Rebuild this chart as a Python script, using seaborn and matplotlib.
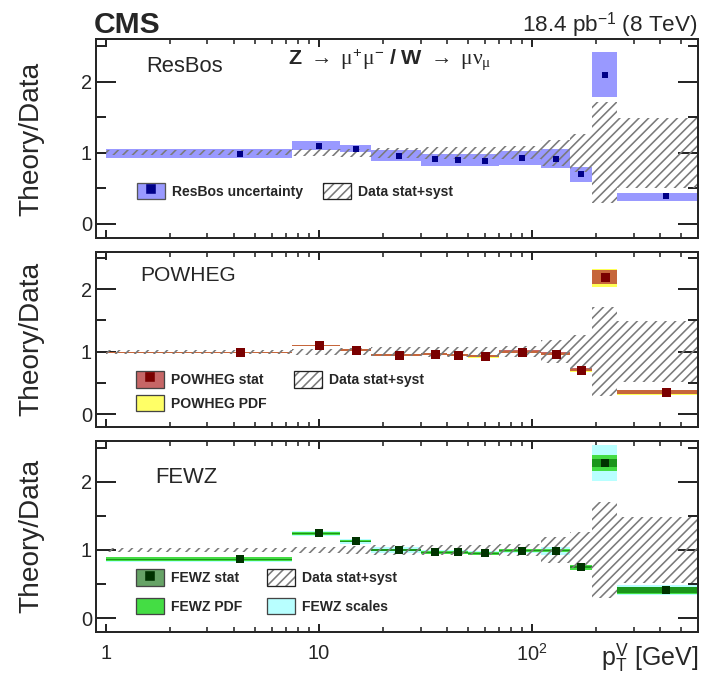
import numpy as np
import pandas as pd
import matplotlib
matplotlib.use("Agg")
import matplotlib.pyplot as plt
import seaborn as sns
from matplotlib.patches import Patch
from matplotlib.lines import Line2D
from matplotlib.legend_handler import HandlerTuple
from matplotlib.ticker import FixedLocator, NullFormatter, LogLocator

DPI = 115
W, H = 704, 675


def pt(px):
    return px * 72.0 / DPI


# ---------------- data ----------------
bin_edges = [1, 7.5, 12.5, 17.5, 30, 40, 50, 70, 110, 150, 190, 250, 600]
bin_centers = [4.25, 10, 15, 23.75, 35, 45, 60, 90, 130, 170, 220, 425]

# relative data uncertainty (stat+syst), band around 1
data_err = [0.035, 0.05, 0.06, 0.075, 0.08, 0.08, 0.08, 0.09, 0.185, 0.27, 0.71, 0.49]

# ResBos
resbos_val = [0.99, 1.10, 1.06, 0.95, 0.92, 0.90, 0.89, 0.93, 0.92, 0.70, 2.10, 0.39]
resbos_lo = [0.93, 1.035, 1.01, 0.885, 0.82, 0.81, 0.81, 0.83, 0.78, 0.59, 1.78, 0.32]
resbos_hi = [1.06, 1.16, 1.115, 1.035, 0.98, 0.99, 0.98, 1.02, 1.06, 0.80, 2.42, 0.44]

# POWHEG
powheg_val = [0.99, 1.10, 1.03, 0.95, 0.96, 0.95, 0.93, 1.00, 0.97, 0.71, 2.19, 0.36]
powheg_stat = [0.008, 0.01, 0.012, 0.012, 0.012, 0.015, 0.015, 0.02, 0.02, 0.025, 0.11, 0.03]
powheg_pdf_dn = [0.015, 0.012, 0.015, 0.02, 0.02, 0.022, 0.03, 0.02, 0.022, 0.03, 0.16, 0.045]
powheg_pdf_up = [0.008, 0.008, 0.01, 0.012, 0.012, 0.012, 0.012, 0.015, 0.015, 0.02, 0.13, 0.03]

# FEWZ
fewz_val = [0.865, 1.245, 1.13, 1.0, 0.965, 0.965, 0.95, 0.99, 0.99, 0.745, 2.28, 0.41]
fewz_stat = [0.008, 0.008, 0.008, 0.008, 0.008, 0.008, 0.008, 0.01, 0.01, 0.015, 0.055, 0.04]
fewz_pdf = [0.025, 0.02, 0.02, 0.02, 0.02, 0.02, 0.02, 0.02, 0.02, 0.035, 0.115, 0.05]
fewz_scale = [0.035, 0.035, 0.035, 0.04, 0.03, 0.03, 0.03, 0.03, 0.06, 0.04, 0.265, 0.07]

y_ticks = [0, 1, 2]
x_ticks = [1, 10, 100]
x_ticklabels = ["1", "10", r"$10^{2}$"]

# ---------------- style ----------------
sns.set_theme(style="ticks")
plt.rcParams.update({
    "font.family": ["Liberation Sans", "DejaVu Sans"],
    "mathtext.fontset": "custom",
    "mathtext.rm": "Liberation Sans",
    "mathtext.it": "Liberation Serif",
    "mathtext.bf": "Liberation Sans:bold",
    "mathtext.sf": "Liberation Sans",
    "hatch.color": "#7a7a7a",
    "hatch.linewidth": pt(1.6),
    "axes.linewidth": pt(2.0),
})

HATCH = "////"
HCOL = "#7a7a7a"
fig = plt.figure(figsize=(W / DPI, H / DPI), dpi=DPI)

left = 96 / W
width = (698 - 96) / W
rects = [
    (left, 1 - 238 / H, width, 198.7 / H),
    (left, 1 - 426.7 / H, width, 175 / H),
    (left, 1 - 631.7 / H, width, 190.7 / H),
]
axes = [fig.add_axes(r) for r in rects]

edges = np.array(bin_edges, dtype=float)
lefts = edges[:-1]
widths = np.diff(edges)


def band(ax, lo, hi, z, **kw):
    lo = np.asarray(lo, float)
    hi = np.asarray(hi, float)
    ax.bar(lefts, hi - lo, bottom=lo, width=widths, align="edge",
           linewidth=0, zorder=z, **kw)


def data_band(ax):
    e = np.asarray(data_err)
    ax.bar(lefts, 2 * e, bottom=1 - e, width=widths, align="edge",
           fill=False, hatch=HATCH, edgecolor=HCOL, linewidth=0, zorder=3)


def markers(ax, vals, color, size_px):
    df = pd.DataFrame({"pt": bin_centers, "ratio": vals})
    sns.scatterplot(data=df, x="pt", y="ratio", marker="s", s=pt(size_px) ** 2,
                    color=color, edgecolor=color, linewidth=0, zorder=6,
                    ax=ax, legend=False)


def style_axis(ax, bottom_labels):
    ax.set_xscale("log")
    ax.set_xlim(0.9, 600)
    ax.set_ylim(-0.2, 2.6)
    ax.yaxis.set_major_locator(FixedLocator(y_ticks))
    ax.yaxis.set_minor_locator(FixedLocator([0.5, 1.5, 2.5]))
    ax.xaxis.set_major_locator(FixedLocator(x_ticks))
    ax.xaxis.set_minor_locator(LogLocator(base=10, subs=np.arange(2, 10)))
    ax.xaxis.set_minor_formatter(NullFormatter())
    if bottom_labels:
        ax.set_xticklabels(x_ticklabels)
    else:
        ax.set_xticklabels([])
    ax.tick_params(axis="y", which="major", direction="in", length=pt(20),
                   width=pt(2), left=True, right=True, labelsize=pt(20), pad=pt(4))
    ax.tick_params(axis="y", which="minor", direction="in", length=pt(10),
                   width=pt(2), left=True, right=True)
    ax.tick_params(axis="x", which="major", direction="in", length=pt(8),
                   width=pt(2), top=True, bottom=True, labelsize=pt(20), pad=pt(12))
    ax.tick_params(axis="x", which="minor", direction="in", length=pt(5),
                   width=pt(1.6), top=True, bottom=True)
    for s in ax.spines.values():
        s.set_visible(True)
        s.set_linewidth(pt(2))
        s.set_zorder(10)
    ax.set_xlabel("")
    ax.set_ylabel("Theory/Data", fontsize=pt(28))
    ax.yaxis.label.set_va("center")
    ax.yaxis.set_label_coords((31.7 - 96) / 602, 0.5)
    ax.set_facecolor("white")


leg_font = {"weight": "bold", "size": pt(14)}


def hatch_handle():
    return (Patch(facecolor="white", hatch=HATCH, edgecolor=HCOL, linewidth=0),
            Patch(fill=False, edgecolor="#222222", linewidth=pt(1.3)))


def add_legend(ax, handles, labels, anchor, colsp, rowsp):
    ax.legend(handles, labels, ncol=2, loc="upper left", bbox_to_anchor=anchor,
              frameon=False, prop=leg_font, handlelength=2.0, handleheight=1.45,
              handletextpad=0.5, columnspacing=colsp, labelspacing=rowsp,
              borderpad=0, borderaxespad=0,
              handler_map={tuple: HandlerTuple(ndivide=1, pad=0)})


# ---------------- panel 1: ResBos ----------------
ax = axes[0]
style_axis(ax, False)
band(ax, resbos_lo, resbos_hi, 2, color="#9999ff")
data_band(ax)
markers(ax, resbos_val, "#000088", 7)
ax.text(0.083, 0.862, "ResBos", transform=ax.transAxes, fontsize=pt(22),
        ha="left", va="center")
ax.text((390 - 96) / 602, (238 - 60) / 198.7,
        r"$\mathbf{Z}\ \rightarrow\ \mu^{+}\mu^{-}\ \mathbf{/\ W}\ \rightarrow\ \mu\nu_{\mu}$",
        transform=ax.transAxes, fontsize=pt(21.5), ha="center", va="center")
add_legend(ax,
           [(Patch(facecolor="#9999ff", edgecolor="#555555", linewidth=pt(1.3)),
             Line2D([], [], ls="", marker="s", color="#000088", markersize=pt(8))),
            hatch_handle()],
           ["ResBos uncertainty", "Data stat+syst"],
           ((136.7 - 96) / 602, (238 - 182.7) / 198.7), 1.45, 0.5)

# ---------------- panel 2: POWHEG ----------------
ax = axes[1]
style_axis(ax, False)
pv = np.asarray(powheg_val)
band(ax, pv - np.asarray(powheg_pdf_dn), pv + np.asarray(powheg_pdf_up), 2,
     color="#ffff55")
band(ax, pv - np.asarray(powheg_stat), pv + np.asarray(powheg_stat), 2.1,
     color="#b33333", alpha=0.75)
data_band(ax)
markers(ax, powheg_val, "#7a0000", 9)
ax.text((140.7 - 96) / 602, 0.862, "POWHEG", transform=ax.transAxes,
        fontsize=pt(21), ha="left", va="center")
add_legend(ax,
           [(Patch(facecolor="#c66666", edgecolor="#444444", linewidth=pt(1.3)),
             Line2D([], [], ls="", marker="s", color="#7a0000", markersize=pt(8))),
            (Patch(facecolor="#ffff66", edgecolor="#444444", linewidth=pt(1.3)),),
            hatch_handle()],
           ["POWHEG stat", "POWHEG PDF", "Data stat+syst"],
           ((135.7 - 96) / 602, (426.7 - 371) / 175), 2.0, 0.5)

# ---------------- panel 3: FEWZ ----------------
ax = axes[2]
style_axis(ax, True)
fv = np.asarray(fewz_val)
band(ax, fv - np.asarray(fewz_scale), fv + np.asarray(fewz_scale), 1.9,
     color="#b8ffff")
band(ax, fv - np.asarray(fewz_pdf), fv + np.asarray(fewz_pdf), 2,
     color="#44dd44")
band(ax, fv - np.asarray(fewz_stat), fv + np.asarray(fewz_stat), 2.1,
     color="#006600", alpha=0.6)
data_band(ax)
markers(ax, fewz_val, "#003300", 8)
ax.text((155 - 96) / 602, 0.81, "FEWZ", transform=ax.transAxes,
        fontsize=pt(22), ha="left", va="center")
add_legend(ax,
           [(Patch(facecolor="#66a366", edgecolor="#444444", linewidth=pt(1.3)),
             Line2D([], [], ls="", marker="s", color="#003300", markersize=pt(8))),
            (Patch(facecolor="#44dd44", edgecolor="#444444", linewidth=pt(1.3)),),
            hatch_handle(),
            (Patch(facecolor="#b8ffff", edgecolor="#444444", linewidth=pt(1.3)),)],
           ["FEWZ stat", "FEWZ PDF", "Data stat+syst", "FEWZ scales"],
           ((136 - 96) / 602, (631.7 - 569.3) / 190.7), 1.8, 0.85)
ax.set_xlabel(r"p$_{\mathrm{T}}^{\mathrm{V}}$ [GeV]", fontsize=pt(25), loc="right")
ax.xaxis.label.set_va("center")
ax.xaxis.set_label_coords(1.0, (631.7 - 658) / 190.7)

# ---------------- header ----------------
fig.text(94 / W, 1 - 33 / H, "CMS", fontsize=pt(30), weight="bold",
         ha="left", va="baseline")
fig.text(698 / W, 1 - 31 / H, r"18.4 pb$^{-1}$ (8 TeV)", fontsize=pt(22.5),
         ha="right", va="baseline")

fig.savefig("out.png", dpi=DPI)
